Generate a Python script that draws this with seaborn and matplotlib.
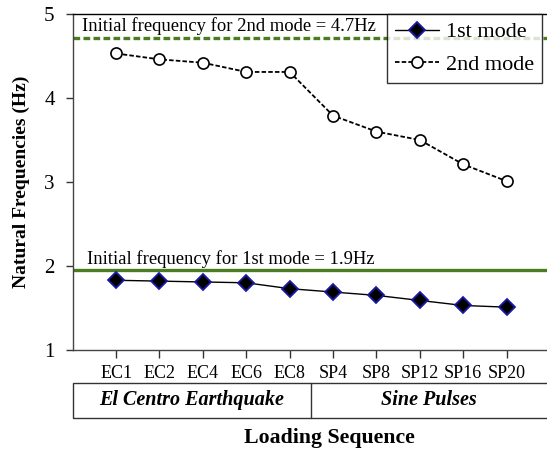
import matplotlib
matplotlib.use("Agg")
import matplotlib.pyplot as plt
import matplotlib.transforms as mtransforms
from matplotlib.patches import Rectangle
from matplotlib.lines import Line2D
import seaborn as sns
import pandas as pd

# ---- data ----
loads = ["EC1", "EC2", "EC4", "EC6", "EC8", "SP4", "SP8", "SP12", "SP16", "SP20"]
mode1 = [1.83, 1.82, 1.81, 1.80, 1.73, 1.69, 1.65, 1.59, 1.53, 1.51]
mode2 = [4.53, 4.46, 4.42, 4.31, 4.31, 3.79, 3.60, 3.50, 3.21, 3.01]
init1 = 1.95
init2 = 4.72
groups = ["El Centro Earthquake", "Sine Pulses"]
group_sizes = [5, 5]

sns.set_theme(style="white")
plt.rcParams["font.family"] = ["Liberation Serif", "DejaVu Serif"]
plt.rcParams["text.color"] = "black"
plt.rcParams["axes.labelcolor"] = "black"
plt.rcParams["xtick.color"] = "#333333"
plt.rcParams["ytick.color"] = "#333333"
plt.rcParams["xtick.labelcolor"] = "black"
plt.rcParams["ytick.labelcolor"] = "black"

fig = plt.figure(figsize=(5.47, 4.51), dpi=100)
ax = fig.add_axes([72.7 / 547, 1 - 350 / 451, 1 - 72.7 / 547, (350 - 14) / 451])

idx = list(range(len(loads)))
df = pd.DataFrame({"x": idx, "m1": mode1, "m2": mode2})

green = "#4A7D1E"
ax.axhline(init2, color=green, lw=2.4, ls=(0, (2.0, 1.0)), zorder=1)
ax.axhline(init1, color=green, lw=2.4, zorder=1)

sns.lineplot(data=df, x="x", y="m2", ax=ax, color="black", lw=1.3,
             linestyle=(0, (2.5, 1.2)), marker="o", markersize=8,
             markerfacecolor="white", markeredgecolor="black",
             markeredgewidth=1.2, zorder=3)
sns.lineplot(data=df, x="x", y="m1", ax=ax, color="black", lw=1.0,
             marker="D", markersize=8, markerfacecolor="black",
             markeredgecolor="#1a1aa8", markeredgewidth=1.3, zorder=4)

ax.set_xlim(-1, 9.93)
ax.set_ylim(1, 5)
ax.set_yticks([1, 2, 3, 4, 5])
ax.set_xticks(idx)
ax.set_xticklabels(loads, fontsize=13)
ax.tick_params(axis="x", bottom=True, direction="out", length=6, width=1, pad=5)
ax.tick_params(axis="y", left=True, direction="out", length=5, width=1, labelsize=15, pad=8)
ax.set_xlabel("")
ax.set_ylabel("Natural Frequencies (Hz)", fontsize=14, fontweight="bold", labelpad=10)

for s in ["left", "bottom"]:
    ax.spines[s].set_color("#444444")
    ax.spines[s].set_linewidth(1.0)
ax.spines["top"].set_color("black")
ax.spines["top"].set_linewidth(1.0)
ax.spines["right"].set_visible(False)

ax.text(-0.78, init2 + 0.03, "Initial frequency for 2nd mode = 4.7Hz",
        fontsize=13.4, va="bottom", ha="left")
ax.text(-0.67, init1 + 0.03, "Initial frequency for 1st mode = 1.9Hz",
        fontsize=13.4, va="bottom", ha="left")

# group table below the axis
tr = mtransforms.blended_transform_factory(ax.transData, ax.transAxes)
y0, y1 = -0.202, -0.098
rect = Rectangle((-1, y0), 11.5, y1 - y0, transform=tr, fill=False,
                 edgecolor="#333333", lw=1.0, clip_on=False)
ax.add_patch(rect)
bounds = [-1]
pos = 0
for n in group_sizes:
    pos += n
    bounds.append(pos - 0.5 if pos < len(loads) else 9.93)
for i, g in enumerate(groups):
    ax.text((bounds[i] + bounds[i + 1]) / 2, (y0 + y1) / 2, g, transform=tr,
            ha="center", va="center", fontsize=14.5, fontweight="bold",
            fontstyle="italic")
for b in bounds[1:-1]:
    ax.add_line(Line2D([b, b], [y0, y1], transform=tr, color="#333333",
                       lw=1.0, clip_on=False))

fig.text(329 / 547, 1 - 438 / 451, "Loading Sequence", ha="center", va="center",
         fontsize=15.7, fontweight="bold")

handles = [
    Line2D([], [], color="black", lw=1.0, marker="D", markersize=8,
           markerfacecolor="black", markeredgecolor="#1a1aa8", markeredgewidth=1.3),
    Line2D([], [], color="black", lw=1.3, linestyle=(0, (2.5, 1.2)), marker="o",
           markersize=8, markerfacecolor="white", markeredgecolor="black",
           markeredgewidth=1.2),
]
leg = ax.legend(handles, ["1st mode", "2nd mode"], loc="upper left",
                bbox_to_anchor=((387 - 72.7) / 474.3, 1.0), frameon=True,
                fancybox=False, edgecolor="black", fontsize=16,
                handlelength=2.0, handletextpad=0.3, borderpad=0.35,
                labelspacing=0.55, borderaxespad=0)
leg.get_frame().set_linewidth(1.0)
leg.set_zorder(10)

fig.savefig("out.png", dpi=100)
